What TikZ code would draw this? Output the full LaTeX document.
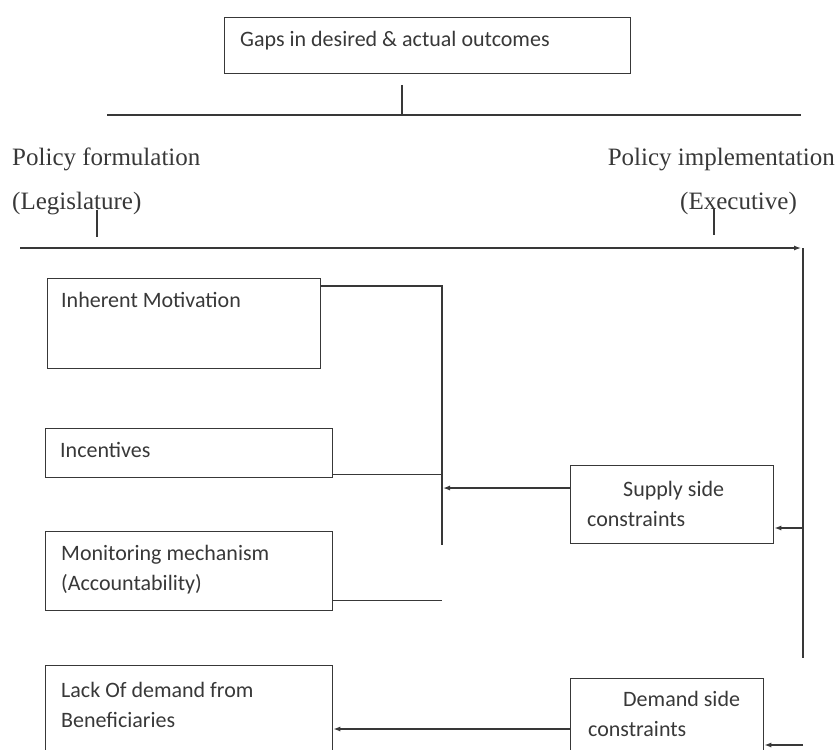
\documentclass[tikz,border=0pt]{standalone}
\usepackage{fontspec}
\setmainfont{Liberation Serif}
\newfontfamily\boxfont{Carlito}
\usetikzlibrary{arrows.meta,calc}

\definecolor{ink}{gray}{0.22}

\begin{document}
\begin{tikzpicture}[x=1pt, y=-1pt,
  box/.style={draw=ink, line width=1.3pt, inner sep=0pt, anchor=north west},
  boxtxt/.style={font=\boxfont\fontsize{22}{30}\selectfont, text=ink, inner sep=0pt, anchor=base west, align=left},
  side/.style={font=\fontsize{25}{30}\selectfont, text=ink, inner sep=0pt},
  wire/.style={draw=ink, line width=1.3pt},
  arr/.style={wire, -{Latex[length=7pt, width=5pt]}}
]
\useasboundingbox (0,0) rectangle (837,749);
\clip (0,0) rectangle (837,749);

% boxes
\node[box, minimum width=406pt, minimum height=56pt] (gaps) at (224,17) {};
\node[box, minimum width=273pt, minimum height=90pt] (motiv) at (47,278) {};
\node[box, minimum width=287pt, minimum height=49pt] (incent) at (45,428) {};
\node[box, minimum width=287pt, minimum height=79pt] (monit) at (45,531) {};
\node[box, minimum width=287pt, minimum height=110pt] (lack) at (45,665) {};
\node[box, minimum width=203pt, minimum height=78pt] (supply) at (570,465) {};
\node[box, minimum width=193pt, minimum height=110pt] (demand) at (570,678) {};

% box texts (base = last line)
\node[boxtxt] (gapstxt) at (240,47) {Gaps in desired \& actual outcomes};
\node[boxtxt] (motivtxt) at (61,307) {Inherent Motivation};
\node[boxtxt] (incenttxt) at (60,457) {Incentives};
\node[boxtxt] (monittxt) at (61,590) {Monitoring mechanism\\(Accountability)};
\node[boxtxt] (lacktxt) at (61,727) {Lack Of demand from\\Beneficiaries};
\node[boxtxt] (supplytxt) at (587,526) {\hspace*{36pt}Supply side\\constraints};
\node[boxtxt] (demandtxt) at (588,736) {\hspace*{35pt}Demand side\\constraints};

% policy labels
\node[side, anchor=base west] (form) at (12,165) {Policy formulation};
\node[side, anchor=base west] (legis) at (12,209) {(Legislature)};
\node[side, anchor=base east] (impl) at (835,165) {Policy implementation};
\node[side, anchor=base west] (exec) at (680,209) {(Executive)};

% split under the top box
\coordinate (stubtop) at (402,85);
\coordinate (stubbot) at (402,115);
\coordinate (splitL) at (107,115);
\coordinate (splitR) at (801,115);
\draw[wire] (stubtop) -- (stubbot);
\draw[wire] (splitL) -- (splitR);

% axis with ticks
\coordinate (axisL) at (20,248);
\coordinate (axisR) at (801,248);
\coordinate (railtop) at (803,248);
\coordinate (railbot) at (803,658);
\coordinate (railsup) at (803,528);
\coordinate (railfoot) at (803,745);
\draw[arr] (axisL) -- (axisR);
\draw[wire] (railtop) -- (railbot);
\draw[wire] (97,210) -- (97,237);
\draw[wire] (714,208) -- (714,235);

% left collector
\coordinate (jointop) at (442,286);
\coordinate (joinbot) at (442,545);
\coordinate (joinsup) at (443,488);
\draw[wire] ($(motiv.north east)+(0,8)$) -- (jointop) -- (joinbot);
\draw[wire] ($(incent.south east)+(0,-4)$) -- ($(jointop |- incent.south east)+(0,-4)$);
\draw[wire] ($(monit.south east)+(0,-11)$) -- ($(jointop |- monit.south east)+(0,-11)$);
\draw[arr] ($(supply.north west)+(0,23)$) -- (joinsup);

% right rail feeds
\draw[arr] (railsup) -- (supply.east |- railsup);
\draw[arr] (railfoot) -- (demand.east |- railfoot);
\draw[arr] ($(demand.north west)+(0,51)$) -- ($(lack.north east)+(0,64)$);

\end{tikzpicture}
\end{document}
